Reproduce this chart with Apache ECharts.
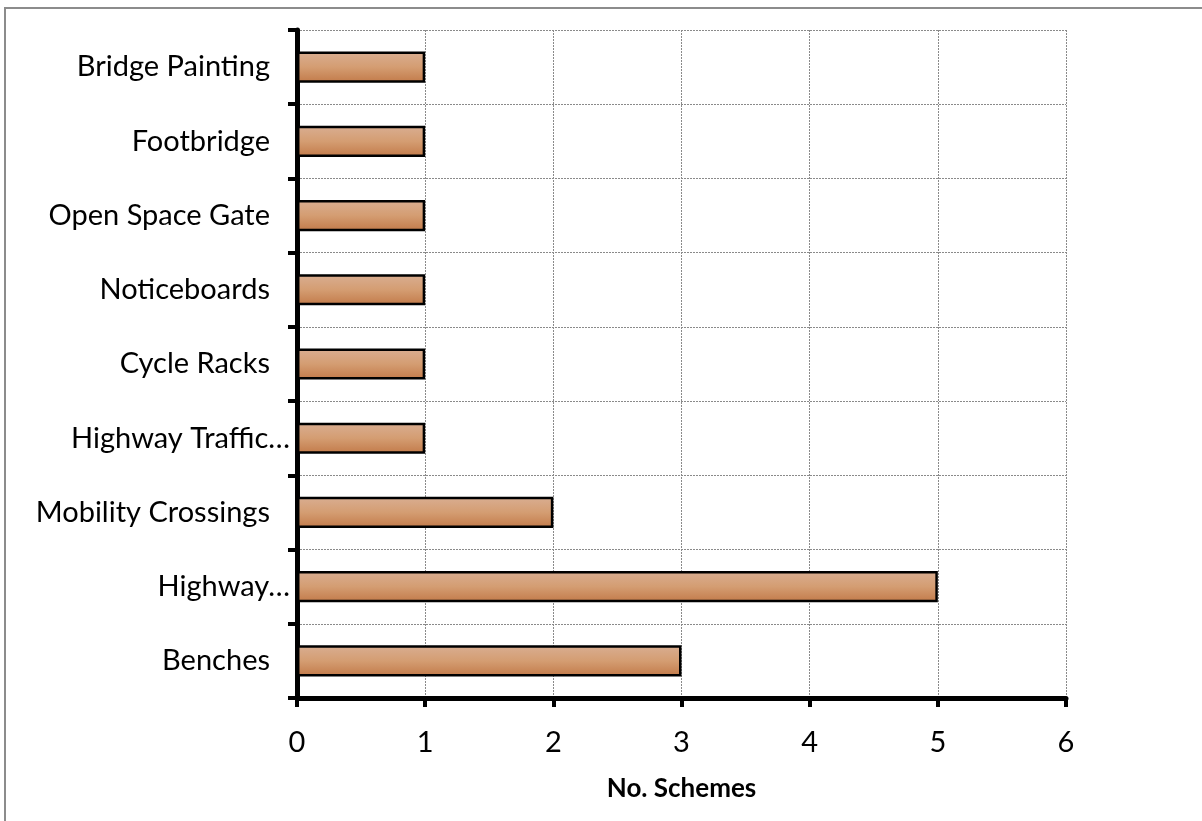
<!DOCTYPE html>
<html>
<head>
<meta charset="utf-8">
<script src="https://cdn.jsdelivr.net/npm/echarts@6/dist/echarts.min.js"></script>
<style>
html,body{margin:0;padding:0;background:#fff;overflow:hidden;}
#frame{position:absolute;left:4px;top:7px;width:1400px;height:1000px;border-left:2px solid #8c8c8c;border-top:2px solid #8c8c8c;}
#chart{position:absolute;left:0;top:0;width:1202px;height:821px;}
</style>
</head>
<body>
<div id="frame"></div>
<div id="chart"></div>
<script>
const categories = ['Benches','Highway…','Mobility Crossings','Highway Traffic…','Cycle Racks','Noticeboards','Open Space Gate','Footbridge','Bridge Painting'];
const schemes = [3,5,2,1,1,1,1,1,1];
const xTicks = [0,1,2,3,4,5,6];
const axisTitle = 'No. Schemes';

const chart = echarts.init(document.getElementById('chart'));
const font = 'Lato, "Open Sans", sans-serif';
chart.setOption({
  animation:false,
  grid:{left:297,right:136,top:30,bottom:123,containLabel:false},
  xAxis:{
    type:'value',min:xTicks[0],max:xTicks[xTicks.length-1],interval:1,
    name:axisTitle,nameLocation:'middle',nameGap:78,
    nameTextStyle:{fontFamily:font,fontSize:26,fontWeight:'bold',color:'#000'},
    axisLine:{show:true,lineStyle:{color:'#000',width:5}},
    axisTick:{show:true,length:9,lineStyle:{color:'#000',width:4}},
    axisLabel:{fontFamily:font,fontSize:29,color:'#000',margin:30},
    splitLine:{show:true,lineStyle:{color:'#8a8a8a',type:[2,1],width:1}}
  },
  yAxis:{
    type:'category',data:categories,
    axisLine:{show:true,lineStyle:{color:'#000',width:5}},
    axisTick:{show:true,length:9,lineStyle:{color:'#000',width:4}},
    axisLabel:{
      fontFamily:font,fontSize:29,color:'#000',margin:7,
      formatter:function(v){return v.endsWith('…') ? '{e|'+v+'}' : '{n|'+v+'}';},
      rich:{
        e:{fontFamily:font,fontSize:29,color:'#000'},
        n:{fontFamily:font,fontSize:29,color:'#000',padding:[0,20,0,0]}
      }
    },
    splitLine:{show:true,lineStyle:{color:'#8a8a8a',type:[2,1],width:1}}
  },
  series:[{
    type:'bar',data:schemes,barWidth:'42%',
    itemStyle:{
      borderColor:'#000',borderWidth:2.5,
      color:new echarts.graphic.LinearGradient(0,0,0,1,[
        {offset:0,color:'#d9ae92'},
        {offset:0.5,color:'#d49d72'},
        {offset:1,color:'#c27a49'}
      ])
    }
  }]
});
</script>
</body>
</html>
